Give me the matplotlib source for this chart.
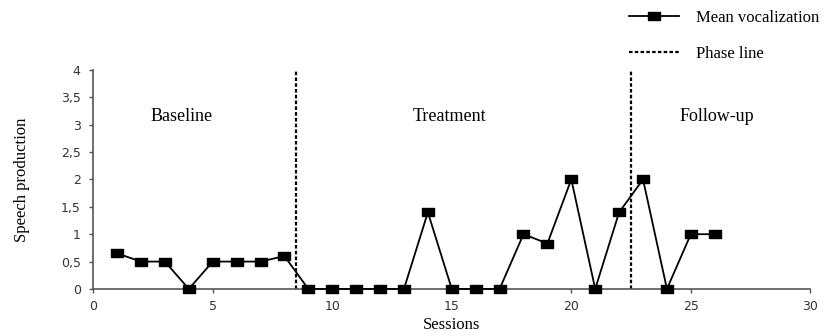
import matplotlib.pyplot as plt
from matplotlib.ticker import FuncFormatter

sessions = list(range(1, 27))
vocalization = [0.65, 0.5, 0.5, 0.0, 0.5, 0.5, 0.5, 0.6,
                0.0, 0.0, 0.0, 0.0, 0.0, 1.4, 0.0, 0.0, 0.0, 1.0, 0.83, 2.0, 0.0, 1.4,
                2.0, 0.0, 1.0, 1.0]
phase_lines = [8.5, 22.5]
phase_names = ['Baseline', 'Treatment', 'Follow-up']
phase_label_x = [3.7, 14.9, 26.1]

serif = 'Liberation Serif'

fig = plt.figure(figsize=(8.32, 3.36), dpi=100)
ax = fig.add_axes([0.112, 0.140, 0.862, 0.652])

# rectangular marker, wider than tall
rect = [(-1, -0.65), (1, -0.65), (1, 0.65), (-1, 0.65), (-1, -0.65)]
line, = ax.plot(sessions, vocalization, color='black', lw=1.3,
                marker=rect, markersize=9, markerfacecolor='black',
                markeredgecolor='black', clip_on=False, zorder=3,
                label='Mean vocalization')

for i, x in enumerate(phase_lines):
    ax.plot([x, x], [0, 4], color='black', lw=1.6, linestyle=(0, (1.6, 1.0)),
            label='Phase line' if i == 0 else None)

for name, x in zip(phase_names, phase_label_x):
    ax.text(x, 3.15, name, ha='center', va='center', fontsize=13, family=serif)

ax.set_xlim(0, 30)
ax.set_ylim(0, 4)
ax.set_xticks(range(0, 31, 5))
ax.set_yticks([0, 0.5, 1, 1.5, 2, 2.5, 3, 3.5, 4])
ax.yaxis.set_major_formatter(FuncFormatter(lambda v, p: ('%g' % v).replace('.', ',')))
ax.tick_params(labelsize=9, length=3, width=1, color='#555555', labelcolor='#333333')
ax.tick_params(axis='y', pad=6)
ax.tick_params(axis='x', pad=5)

for s in ['top', 'right']:
    ax.spines[s].set_visible(False)
for s in ['left', 'bottom']:
    ax.spines[s].set_color('#555555')
    ax.spines[s].set_linewidth(1.2)

ax.set_xlabel('Sessions', fontsize=12, family=serif, labelpad=3)
ax.set_ylabel('Speech production', fontsize=12, family=serif, labelpad=22)

handles, labels = ax.get_legend_handles_labels()
fig.legend(handles, labels, loc='upper left', bbox_to_anchor=(0.738, 1.015),
           frameon=False, prop={'family': serif, 'size': 12},
           handlelength=3.0, labelspacing=1.2, handletextpad=1.0)

fig.savefig('out.png', dpi=100)
